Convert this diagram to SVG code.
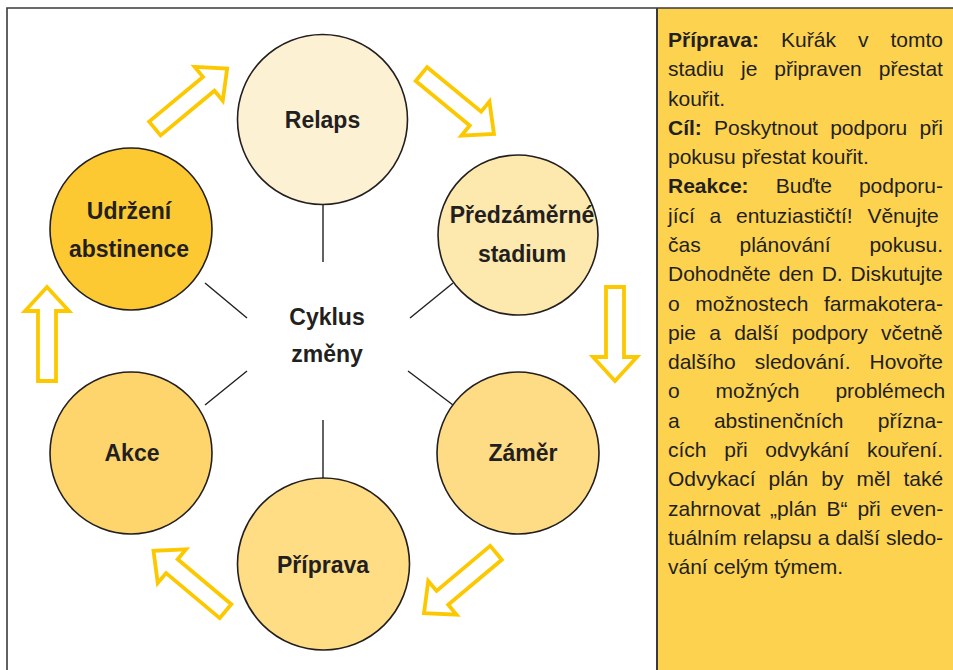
<svg xmlns="http://www.w3.org/2000/svg" width="953" height="670" viewBox="0 0 953 670">
<style>
.frame{fill:none;stroke:#3a3a3a;stroke-width:1.6}
.node circle{stroke:#231f20;stroke-width:1.6}
.node text,.center text{font-family:"Liberation Sans",Arial,sans-serif;font-weight:bold;font-size:23px;fill:#231f20;text-anchor:middle}
.spoke{stroke:#231f20;stroke-width:1.4}
.arrow{fill:#fff;stroke:#fcc800;stroke-width:3.8;stroke-linejoin:miter;stroke-miterlimit:10}
.panel text{font-family:"Liberation Sans",Arial,sans-serif;font-size:21px;fill:#231f20}
.panel tspan.b{font-weight:bold}
</style>
<defs>
<path id="arr" d="M -47 -9 L 23 -9 L 23 -22 L 47 0 L 23 22 L 23 9 L -47 9 Z"/>
</defs>
<rect x="0" y="0" width="953" height="670" fill="#fff"/>
<rect x="657" y="8" width="296" height="662" fill="#fdd24f"/>
<path class="frame" d="M7 670 V8 H953"/>
<line x1="657" y1="8" x2="657" y2="670" stroke="#3a3a3a" stroke-width="2"/>

<g id="connectors">
<line class="spoke" x1="323" y1="205" x2="323" y2="262"/>
<line class="spoke" x1="323" y1="420" x2="323" y2="478"/>
<line class="spoke" x1="205" y1="283" x2="247" y2="318"/>
<line class="spoke" x1="453" y1="283" x2="410" y2="318"/>
<line class="spoke" x1="205" y1="405" x2="247" y2="371"/>
<line class="spoke" x1="408" y1="371" x2="453" y2="405"/>
<use href="#arr" class="arrow" transform="translate(191,98.5) rotate(-39.7)"/>
<use href="#arr" class="arrow" transform="translate(457.7,104) rotate(39.5)"/>
<use href="#arr" class="arrow" transform="translate(615,334) rotate(90)"/>
<use href="#arr" class="arrow" transform="translate(460,583) rotate(140)"/>
<use href="#arr" class="arrow" transform="translate(189.5,581) rotate(-140)"/>
<use href="#arr" class="arrow" transform="translate(47,334) rotate(-90)"/>
</g>

<g id="node-relaps" class="node">
<circle cx="322.5" cy="119.5" r="85" fill="#fdf1d4"/>
<text x="322.5" y="128">Relaps</text>
</g>
<g id="node-predzamerne" class="node">
<circle cx="518" cy="235" r="80" fill="#fde8ae"/>
<text x="522" y="223">Předzáměrné</text>
<text x="522" y="262">stadium</text>
</g>
<g id="node-zamer" class="node">
<circle cx="518" cy="453" r="81" fill="#fedc86"/>
<text x="523" y="461">Záměr</text>
</g>
<g id="node-priprava" class="node">
<circle cx="323.5" cy="564" r="86" fill="#fedd85"/>
<text x="323" y="573">Příprava</text>
</g>
<g id="node-akce" class="node">
<circle cx="131" cy="453" r="81" fill="#fdd56c"/>
<text x="132" y="461">Akce</text>
</g>
<g id="node-udrzeni" class="node">
<circle cx="131" cy="229" r="81" fill="#fcc933"/>
<text x="129" y="219">Udržení</text>
<text x="129" y="257">abstinence</text>
</g>
<g id="center" class="center">
<text x="327" y="325">Cyklus</text>
<text x="327" y="362">změny</text>
</g>

<g id="panel" class="panel">
<text x="668" y="47" word-spacing="16.2"><tspan class="b">Příprava:</tspan> Kuřák v tomto</text>
<text x="668" y="76.3" word-spacing="11.1">stadiu je připraven přestat</text>
<text x="668" y="105.6">kouřit.</text>
<text x="668" y="134.8" word-spacing="6.4"><tspan class="b">Cíl:</tspan> Poskytnout podporu při</text>
<text x="668" y="164.1">pokusu přestat kouřit.</text>
<text x="668" y="193.4" word-spacing="21.3"><tspan class="b">Reakce:</tspan> Buďte podporu-</text>
<text x="668" y="222.7" word-spacing="8.9">jící a entuziastičtí! Věnujte</text>
<text x="668" y="252" word-spacing="33">čas plánování pokusu.</text>
<text x="668" y="281.2" word-spacing="2.1">Dohodněte den D. Diskutujte</text>
<text x="668" y="310.5" word-spacing="9.7">o možnostech farmakotera-</text>
<text x="668" y="339.8" word-spacing="7.4">pie a další podpory včetně</text>
<text x="668" y="369.1" word-spacing="13.2">dalšího sledování. Hovořte</text>
<text x="668" y="398.4" word-spacing="30">o možných problémech</text>
<text x="668" y="427.6" word-spacing="28.4">a abstinenčních přízna-</text>
<text x="668" y="456.9" word-spacing="11.9">cích při odvykání kouření.</text>
<text x="668" y="486.2" word-spacing="7.2">Odvykací plán by měl také</text>
<text x="668" y="515.5" word-spacing="4">zahrnovat „plán B“ při even-</text>
<text x="668" y="544.8" word-spacing="0.2">tuálním relapsu a další sledo-</text>
<text x="668" y="574">vání celým týmem.</text>
</g>
</svg>
